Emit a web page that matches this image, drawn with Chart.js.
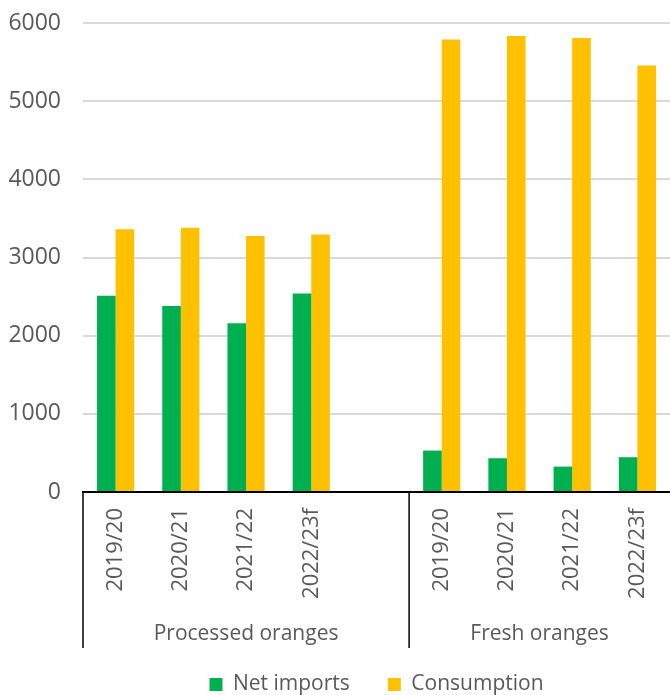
<!DOCTYPE html>
<html>
<head>
<meta charset="utf-8">
<script src="https://cdn.jsdelivr.net/npm/chart.js@4"></script>
<style>
  html, body { margin: 0; padding: 0; background: #fff; }
  #wrap { width: 670px; height: 695px; }
</style>
</head>
<body>
<div id="wrap"><canvas id="c" width="670" height="695"></canvas></div>
<script>
const seasons = ['2019/20', '2020/21', '2021/22', '2022/23f'];
const groups = ['Processed oranges', 'Fresh oranges'];
const netImportsProcessed = [2510, 2380, 2160, 2540];
const consumptionProcessed = [3360, 3380, 3275, 3295];
const netImportsFresh = [530, 432, 325, 445];
const consumptionFresh = [5790, 5835, 5808, 5455];
const yTicks = [0, 1000, 2000, 3000, 4000, 5000, 6000];

const labels = [...seasons, '', ...seasons];
const netImports = [...netImportsProcessed, null, ...netImportsFresh];
const consumption = [...consumptionProcessed, null, ...consumptionFresh];

const FONT = 'Open Sans';
const GREY = '#595959';

const groupPlugin = {
  id: 'groupPlugin',
  afterDraw(chart) {
    const ctx = chart.ctx;
    const x = chart.scales.x;
    const area = chart.chartArea;
    const left = area.left;
    const right = area.right;
    const mid = (x.getPixelForValue(seasons.length) + x.getPixelForValue(seasons.length + 1)) / 2;
    const top = area.bottom;
    const bottom = area.bottom + 156;
    ctx.save();
    ctx.strokeStyle = '#000';
    ctx.lineWidth = 1.5;
    [left, mid].forEach(px => {
      ctx.beginPath();
      ctx.moveTo(px, top);
      ctx.lineTo(px, bottom);
      ctx.stroke();
    });
    ctx.fillStyle = GREY;
    ctx.font = '21px "' + FONT + '"';
    ctx.textAlign = 'center';
    ctx.textBaseline = 'middle';
    ctx.fillText(groups[0], (left + mid) / 2, area.bottom + 142);
    ctx.fillText(groups[1], (mid + right) / 2, area.bottom + 142);
    ctx.restore();
  }
};

new Chart(document.getElementById('c'), {
  type: 'bar',
  data: {
    labels: labels,
    datasets: [
      { label: 'Net imports', data: netImports, backgroundColor: '#00B050', categoryPercentage: 0.57, barPercentage: 1 },
      { label: 'Consumption', data: consumption, backgroundColor: '#FFC000', categoryPercentage: 0.57, barPercentage: 1 }
    ]
  },
  options: {
    responsive: false,
    animation: false,
    devicePixelRatio: 1,
    layout: { padding: { top: 23, right: 0, left: 0, bottom: -10 } },
    plugins: {
      tooltip: { enabled: false },
      legend: {
        position: 'bottom',
        fullSize: false,
        labels: {
          boxWidth: 13, boxHeight: 13,
          color: GREY,
          font: { family: FONT, size: 21 },
          padding: 38
        }
      }
    },
    scales: {
      x: {
        grid: { display: false, drawTicks: false },
        border: { display: true, color: '#000', width: 2 },
        ticks: {
          color: GREY,
          font: { family: FONT, size: 22 },
          minRotation: 90, maxRotation: 90,
          padding: 16,
          autoSkip: false
        },
        afterFit(scale) { scale.height = 144; scale.paddingLeft = 0; scale.paddingRight = 0; }
      },
      y: {
        min: 0, max: 6000,
        afterBuildTicks(scale) { scale.ticks = yTicks.map(v => ({ value: v })); },
        grid: { color: '#D9D9D9', lineWidth: 2, drawTicks: false },
        border: { display: false },
        ticks: {
          color: GREY,
          font: { family: FONT, size: 23 },
          padding: 22,
          callback: v => String(v)
        },
        afterFit(scale) { scale.width = 83; scale.paddingTop = 0; scale.paddingBottom = 0; }
      }
    }
  },
  plugins: [groupPlugin]
});
</script>
</body>
</html>
